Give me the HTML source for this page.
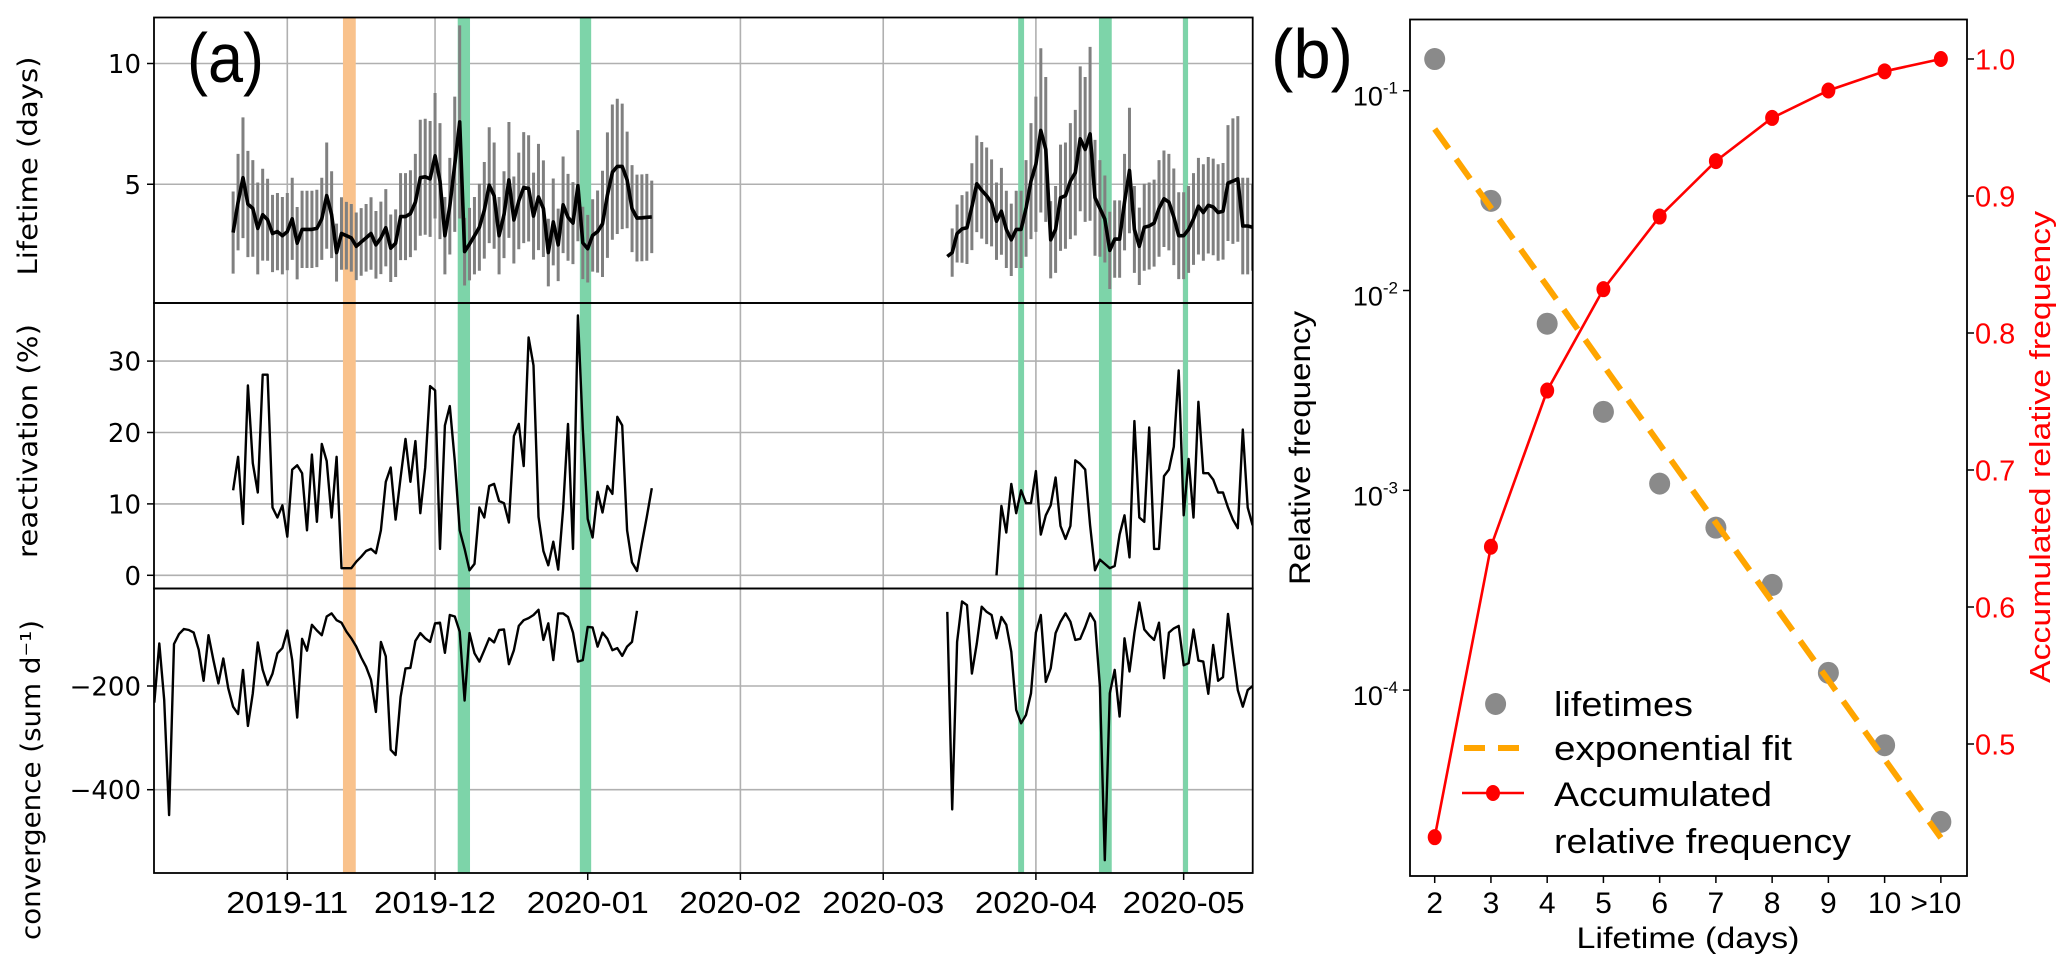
<!DOCTYPE html>
<html><head><meta charset="utf-8">
<style>
html,body{margin:0;padding:0;background:#fff;}
svg{display:block;}
text{font-family:"Liberation Sans",sans-serif;}
.dv{font-family:"DejaVu Sans","Liberation Sans",sans-serif;}
</style></head>
<body>
<svg id="fig" xmlns="http://www.w3.org/2000/svg" width="2067" height="973" viewBox="0 0 2067 973">
<defs>
<clipPath id="cTop"><rect x="154" y="17.5" width="1098.7" height="285.5"/></clipPath>
<clipPath id="cMid"><rect x="154" y="303" width="1098.7" height="285.5"/></clipPath>
<clipPath id="cBot"><rect x="154" y="588.5" width="1098.7" height="284.5"/></clipPath>
<clipPath id="cB"><rect x="1410" y="19.5" width="557" height="856.5"/></clipPath>
</defs>
<g id="pa"></g>
<g id="pb"></g>
</svg>
<script>
// ---------- Panel (a) data (days since 2019-11-01) ----------
const lifeStart1 = -11;
const lifetime1 = [3.0,4.26,5.27,4.18,4.0,3.17,3.74,3.53,2.96,3.04,
2.87,3.04,3.57,2.56,3.13,3.13,3.13,3.17,3.57,4.53,
3.74,2.17,2.96,2.87,2.78,2.43,2.61,2.78,2.96,2.49,
2.78,3.2,2.35,2.56,3.66,3.66,3.78,4.26,5.27,5.31,
5.22,6.18,5.13,2.87,4.09,5.83,7.58,2.21,2.52,2.87,
3.22,3.92,4.96,4.53,2.87,3.74,5.18,3.52,4.31,4.86,
4.83,3.68,4.47,3.99,2.17,3.44,2.49,4.15,3.63,3.39,
4.94,2.57,2.33,2.88,3.04,3.36,4.55,5.50,5.74,5.74,
5.18,3.99,3.60,3.61,3.63,3.65];
const lifetimeErr1 = [1.7,2.0,2.5,2.2,2.0,1.9,1.9,1.7,1.6,1.6,
1.6,1.6,1.7,1.5,1.6,1.6,1.6,1.6,1.7,2.2,
1.8,1.2,1.5,1.4,1.4,1.4,1.4,1.4,1.5,1.4,
1.5,1.6,1.4,1.4,1.8,1.8,1.8,2.0,2.4,2.4,
2.4,2.6,2.4,1.6,2.0,2.8,4.0,1.4,1.5,1.6,
1.8,2.0,2.4,2.2,1.6,1.8,2.4,1.8,2.0,2.3,
2.2,1.8,2.2,2.0,1.4,1.8,1.5,2.0,1.8,1.7,
2.3,1.5,1.4,1.5,1.7,2.2,2.6,2.8,2.8,2.6,
2.0,1.8,1.8,1.8,1.8,1.5];
const lifeStart2 = 134;
const lifetime2 = [2.01,2.17,2.96,3.15,3.20,4.07,5.02,4.75,4.52,4.23,
3.47,3.88,3.13,2.70,3.13,3.13,4.00,5.13,5.83,7.23,
6.44,2.70,3.13,4.44,4.53,5.13,5.48,6.88,6.44,7.09,
4.44,4.00,3.56,2.26,2.73,2.73,4.26,5.57,3.13,2.43,
3.22,3.27,3.39,4.00,4.40,4.26,3.65,2.87,2.87,3.13,
3.56,4.09,3.83,4.13,4.06,3.83,3.88,5.05,5.13,5.22,
3.27,3.27,3.22];
const lifetimeErr2 = [0,1.0,1.2,1.4,1.5,1.8,2.0,2.0,2.0,1.8,
1.6,1.8,1.6,1.5,1.6,1.6,2.0,2.4,2.8,3.4,
3.0,1.6,1.8,2.2,2.2,2.4,2.6,3.0,3.0,3.6,
2.4,2.0,1.8,1.6,1.6,1.6,2.0,2.6,1.8,1.6,
1.8,1.8,1.8,2.0,2.0,2.0,2.0,1.8,1.8,1.8,
1.9,2.0,2.0,2.0,2.0,2.0,2.0,2.4,2.6,2.6,
2.0,2.0,1.8];
const reactStart1 = -11;
const reactivation1 = [11.9,16.6,7.2,26.6,15.7,11.6,28.1,28.1,9.5,8.1,
9.8,5.4,14.8,15.4,14.3,6.3,16.9,7.5,18.4,16.0,
8.1,16.6,1.0,1.0,1.0,1.9,2.6,3.4,3.7,3.1,
6.3,13.1,15.1,7.8,13.7,19.1,13.1,18.8,8.7,15.1,
26.5,25.9,3.7,21.0,23.7,16.0,6.3,3.7,0.7,1.6,
9.5,8.1,12.5,12.8,10.4,10.1,7.4,19.5,21.2,15.3,
33.3,29.4,8.2,3.4,1.4,4.7,0.8,9.3,21.2,3.7,
36.4,20.5,7.9,5.3,11.7,8.8,12.5,11.4,22.2,21.0,
6.3,1.8,0.6,4.5,8.2,12.2];
const reactStart2 = 144;
const reactivation2 = [0,9.7,6.0,12.8,8.7,11.9,10.1,10.1,14.6,5.7,
8.4,9.8,13.7,6.9,5.1,6.9,16.1,15.6,14.8,7.0,
0.7,2.2,1.6,1.0,1.3,5.7,8.4,2.5,21.6,8.1,
7.5,20.7,3.7,3.7,13.9,14.8,18.0,28.7,8.4,16.3,
8.1,24.3,14.3,14.3,13.4,11.6,11.6,9.5,7.8,6.6,
20.4,9.5,7.0];
const convStart1 = -27;
const convergence1 = [-232,-118,-227,-449,-119,-100,-90,-92,-97,-130,
-190,-102,-150,-195,-147,-204,-240,-254,-169,-277,
-214,-116,-169,-198,-176,-137,-127,-93,-150,-261,
-109,-132,-82,-93,-102,-66,-60,-73,-78,-95,
-108,-124,-145,-163,-188,-250,-115,-143,-323,-333,
-221,-166,-165,-113,-98,-108,-115,-79,-78,-136,
-63,-66,-95,-228,-98,-137,-153,-131,-108,-116,
-92,-91,-158,-131,-84,-73,-69,-63,-53,-111,
-79,-150,-60,-60,-67,-97,-153,-150,-86,-87,
-124,-97,-109,-131,-127,-142,-124,-115,-55];
const convStart2 = 134;
const convergence2 = [-57,-438,-115,-37,-44,-176,-118,-47,-57,-63,
-108,-67,-82,-134,-246,-272,-256,-214,-97,-63,
-192,-166,-98,-76,-60,-76,-111,-109,-86,-60,
-76,-201,-536,-214,-169,-259,-108,-172,-98,-39,
-91,-102,-111,-78,-185,-97,-89,-84,-160,-156,
-91,-151,-153,-215,-121,-190,-183,-61,-137,-208,
-240,-208,-200];
const monthTickDays = [0,30,61,92,121,152,182];
const monthTickLabels = ["2019-11","2019-12","2020-01","2020-02","2020-03","2020-04","2020-05"];
const spanStartDays = [11.3,34.6,59.4,148.4,164.8,181.9];
const spanEndDays   = [13.9,37.1,61.7,149.6,167.4,182.9];
const spanKinds = ["orange","green","green","green","green","green"];
const topTicks = [5,10];
const midTicks = [0,10,20,30];
const botTicks = [-400,-200];

// ---------- Panel (b) data ----------
const lifetimeClasses = [2,3,4,5,6,7,8,9,10,11];
const lifetimeClassLabels = ["2","3","4","5","6","7","8","9","10",">10"];
const relFrequency = [0.144,0.0281,0.00682,0.00247,0.00108,0.00065,0.000336,0.000122,0.000053,0.0000219];
const expFit = [0.0643,0.0259,0.0105,0.00422,0.00170,0.000687,0.000277,0.000112,0.0000451,0.0000182];
const accumulated = [0.432,0.644,0.758,0.832,0.885,0.9255,0.957,0.977,0.991,1.0];
const logTickExps = [-1,-2,-3,-4];
const rightTicks = [0.5,0.6,0.7,0.8,0.9,1.0];

// ---------- scales ----------
const xDay = d => 287.3 + 4.925*d;
const yTop = v => 305 - 24.15*v;
const yMid = v => 575.3 - 7.14*v;
const yBot = v => 686 - 0.5185*(v+200);
const xB = k => 1434.7 + 56.24*(k-2);
const yLog = v => 90.7 - 199.8*(Math.log10(v)+1);
const yAcc = v => 59 + (1-v)*1370;

const NS = "http://www.w3.org/2000/svg";
function mk(parent, tag, attrs, txt){
  const e = document.createElementNS(NS, tag);
  for (const k in attrs) e.setAttribute(k, attrs[k]);
  if (txt !== undefined) e.textContent = txt;
  parent.appendChild(e);
  return e;
}
const pa = document.getElementById('pa');
const pb = document.getElementById('pb');
const L = 154, R = 1252.7;

// ---------- Panel a: grids ----------
const panels = [
  {y0:17.5,y1:303,clip:'cTop',ticks:topTicks,ys:yTop,name:'lifetime'},
  {y0:303,y1:588.5,clip:'cMid',ticks:midTicks,ys:yMid,name:'reactivation'},
  {y0:588.5,y1:873,clip:'cBot',ticks:botTicks,ys:yBot,name:'convergence'}
];
panels.forEach(p=>{
  const g = mk(pa,'g',{'clip-path':'url(#'+p.clip+')'});
  
  
  monthTickDays.forEach(d=>{
    const l = mk(g,'line',{x1:xDay(d),x2:xDay(d),y1:p.y0,y2:p.y1,stroke:'#b0b0b0','stroke-width':1.6});
    
    
  });
  p.ticks.forEach(t=>{
    const l = mk(g,'line',{x1:L,x2:R,y1:p.ys(t),y2:p.ys(t),stroke:'#b0b0b0','stroke-width':1.6});
    
    
  });
  spanStartDays.forEach((s,i)=>{
    const r = mk(g,'rect',{x:xDay(s),y:p.y0,width:xDay(spanEndDays[i])-xDay(s),height:p.y1-p.y0,
      fill: spanKinds[i]==='orange' ? '#f9c28c' : '#7dd4a9'});
    
    
  });
  p.ticks.forEach(t=>{
    const tl = mk(pa,'line',{x1:147,x2:L,y1:p.ys(t),y2:p.ys(t),stroke:'#000','stroke-width':1.5});
    
    
    const tx = mk(pa,'text',{x:141,y:p.ys(t)+9.5,'text-anchor':'end','font-size':26,class:'dv'}, t<0 ? '\u2212'+Math.abs(t) : String(t));
    
    
  });
});

// ---------- Panel a: series ----------
function pathFrom(vals, start, ys){
  let d='';
  vals.forEach((v,i)=>{ d += (i?'L':'M') + xDay(start+i).toFixed(1)+','+ys(v).toFixed(1); });
  return d;
}
const gTop = mk(pa,'g',{'clip-path':'url(#cTop)'});


[[lifetime1,lifetimeErr1,lifeStart1],[lifetime2,lifetimeErr2,lifeStart2]].forEach(([vals,errs,st])=>{
  vals.forEach((v,i)=>{
    if(!errs[i]) return;
    const b = mk(gTop,'line',{x1:xDay(st+i),x2:xDay(st+i),y1:yTop(v+errs[i]),y2:yTop(v-errs[i]),stroke:'#808080','stroke-width':3});
    
    
  });
});
[[lifetime1,lifeStart1],[lifetime2,lifeStart2]].forEach(([vals,st])=>{
  const p = mk(gTop,'path',{d:pathFrom(vals,st,yTop),fill:'none',stroke:'#000','stroke-width':3.6,'stroke-linejoin':'round'});
  
  
});
const gMid = mk(pa,'g',{'clip-path':'url(#cMid)'});


[[reactivation1,reactStart1],[reactivation2,reactStart2]].forEach(([vals,st])=>{
  const p = mk(gMid,'path',{d:pathFrom(vals,st,yMid),fill:'none',stroke:'#000','stroke-width':2.4,'stroke-linejoin':'round'});
  
  
});
const gBot = mk(pa,'g',{'clip-path':'url(#cBot)'});


[[convergence1,convStart1],[convergence2,convStart2]].forEach(([vals,st])=>{
  const p = mk(gBot,'path',{d:pathFrom(vals,st,yBot),fill:'none',stroke:'#000','stroke-width':2.4,'stroke-linejoin':'round'});
  
  
});

panels.forEach(p=>{
  const r = mk(pa,'rect',{x:L,y:p.y0,width:R-L,height:p.y1-p.y0,fill:'none',stroke:'#000','stroke-width':1.8});
  
  
});
monthTickDays.forEach((d,i)=>{
  const t = mk(pa,'line',{x1:xDay(d),x2:xDay(d),y1:873,y2:880,stroke:'#000','stroke-width':1.5});
  
  
  const tx = mk(pa,'text',{x:xDay(d),y:913,'text-anchor':'middle','font-size':31,textLength:122,lengthAdjust:'spacingAndGlyphs'}, monthTickLabels[i]);
  
  
});
[["Lifetime (days)",166,219,37],["reactivation (%)",441,234,37],["convergence (sum d\u207B\u00B9)",780,320,40]].forEach(([s,cy,len,bx])=>{
  const t = mk(pa,'text',{x:bx,y:cy,transform:'rotate(-90 '+bx+' '+cy+')','text-anchor':'middle','font-size':27,class:'dv',textLength:len,lengthAdjust:'spacingAndGlyphs'}, s);
  
  
});
const la = mk(pa,'text',{x:187,y:82,'font-size':70,textLength:77,lengthAdjust:'spacingAndGlyphs'},'(a)');



// ---------- Panel b ----------
const gB = mk(pb,'g',{'clip-path':'url(#cB)'});


lifetimeClasses.forEach((k,i)=>{
  const c = mk(gB,'ellipse',{cx:xB(k),cy:yLog(relFrequency[i]),rx:10.5,ry:11,fill:'#8a8a8a'});
  
  
});
let fd='';
lifetimeClasses.forEach((k,i)=>{ fd += (i?'L':'M')+xB(k).toFixed(1)+','+yLog(expFit[i]).toFixed(1); });
const fit = mk(gB,'path',{d:fd,fill:'none',stroke:'#ffa500','stroke-width':6,'stroke-dasharray':'24 13'});


let ad='';
lifetimeClasses.forEach((k,i)=>{ ad += (i?'L':'M')+xB(k).toFixed(1)+','+yAcc(accumulated[i]).toFixed(1); });
const acc = mk(gB,'path',{d:ad,fill:'none',stroke:'#ff0000','stroke-width':2.6});


lifetimeClasses.forEach((k,i)=>{
  const c = mk(gB,'ellipse',{cx:xB(k),cy:yAcc(accumulated[i]),rx:7,ry:8,fill:'#ff0000'});
  
  
});
const fb = mk(pb,'rect',{x:1410,y:19.5,width:557,height:856.5,fill:'none',stroke:'#000','stroke-width':1.8});


lifetimeClasses.forEach((k,i)=>{
  const t = mk(pb,'line',{x1:xB(k),x2:xB(k),y1:876,y2:883,stroke:'#000','stroke-width':1.5});
  
  
  const tx = mk(pb,'text',{x: k===11 ? xB(k)-5 : xB(k), y:913,'text-anchor':'middle','font-size':30}, lifetimeClassLabels[i]);
  
  
});
logTickExps.forEach(e=>{
  const y = yLog(Math.pow(10,e));
  const t = mk(pb,'line',{x1:1403,x2:1410,y1:y,y2:y,stroke:'#000','stroke-width':1.5});
  
  
  const tx = mk(pb,'text',{x:1398,y:y+15,'text-anchor':'end','font-size':27});
  
  
  mk(tx,'tspan',{},'10');
  mk(tx,'tspan',{dy:-12,'font-size':17},'-'+Math.abs(e));
});
rightTicks.forEach(v=>{
  const y = yAcc(v);
  const t = mk(pb,'line',{x1:1967,x2:1974,y1:y,y2:y,stroke:'#000','stroke-width':1.5});
  
  
  const tx = mk(pb,'text',{x:1975,y:y+10.5,'font-size':29,fill:'#ff0000'}, v.toFixed(1));
  
  
});
const yl = mk(pb,'text',{x:1310,y:448,transform:'rotate(-90 1310 448)','text-anchor':'middle','font-size':30,textLength:274,lengthAdjust:'spacingAndGlyphs'},'Relative frequency');


const yr = mk(pb,'text',{x:2050,y:447,transform:'rotate(-90 2050 447)','text-anchor':'middle','font-size':29,fill:'#ff0000',textLength:472,lengthAdjust:'spacingAndGlyphs'},'Accumulated relative frequency');


const xl = mk(pb,'text',{x:1688,y:948,'text-anchor':'middle','font-size':30,textLength:223,lengthAdjust:'spacingAndGlyphs'},'Lifetime (days)');


const lb = mk(pb,'text',{x:1271,y:78,'font-size':70,textLength:82,lengthAdjust:'spacingAndGlyphs'},'(b)');


const lg = mk(pb,'g',{});


const lm1 = mk(lg,'ellipse',{cx:1495.6,cy:704,rx:10.5,ry:11,fill:'#8a8a8a'});


const lt1 = mk(lg,'text',{x:1554,y:716,'font-size':34,textLength:139,lengthAdjust:'spacingAndGlyphs'},'lifetimes');


const lm2 = mk(lg,'line',{x1:1464,x2:1521,y1:748,y2:748,stroke:'#ffa500','stroke-width':6,'stroke-dasharray':'21 13'});


const lt2 = mk(lg,'text',{x:1554,y:760,'font-size':34,textLength:238,lengthAdjust:'spacingAndGlyphs'},'exponential fit');


const lm3 = mk(lg,'line',{x1:1462,x2:1524,y1:793,y2:793,stroke:'#ff0000','stroke-width':2.6});


const lm3b = mk(lg,'ellipse',{cx:1493,cy:793,rx:7,ry:8,fill:'#ff0000'});


const lt3 = mk(lg,'text',{x:1554,y:806,'font-size':34,textLength:218,lengthAdjust:'spacingAndGlyphs'},'Accumulated');


const lt4 = mk(lg,'text',{x:1554,y:853,'font-size':34,textLength:297,lengthAdjust:'spacingAndGlyphs'},'relative frequency');


</script>
</body></html>
